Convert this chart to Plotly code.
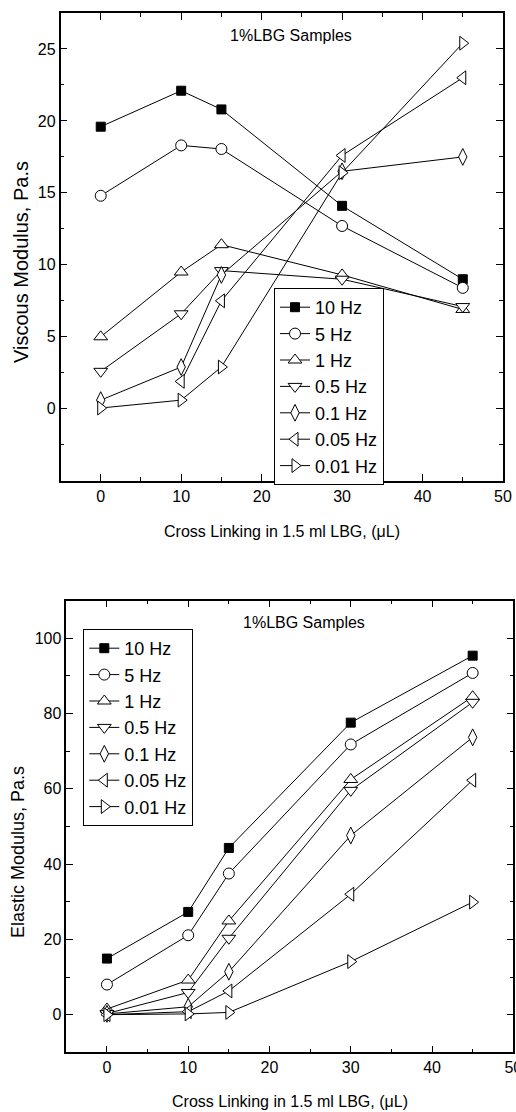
import plotly.graph_objects as go

W, H = 516, 1112

cross_link = [0, 10, 15, 30, 45]
series_names = ["10 Hz", "5 Hz", "1 Hz", "0.5 Hz", "0.1 Hz", "0.05 Hz", "0.01 Hz"]

viscous_10hz = [19.6, 22.1, 20.8, 14.1, 9.0]
viscous_5hz = [14.8, 18.3, 18.05, 12.7, 8.4]
viscous_1hz = [5.0, 9.5, 11.4, 9.3, 6.9]
viscous_05hz = [2.6, 6.6, 9.6, 9.0, 7.1]
viscous_01hz = [0.6, 2.9, 9.3, 16.5, 17.5]
viscous_005hz = [None, 1.9, 7.5, 17.6, 23.0]
viscous_001hz = [0.05, 0.6, 2.9, 16.4, 25.4]

elastic_10hz = [14.9, 27.3, 44.3, 77.6, 95.4]
elastic_5hz = [8.0, 21.1, 37.5, 71.8, 90.8]
elastic_1hz = [1.5, 9.2, 24.9, 62.5, 84.5]
elastic_05hz = [0.3, 5.9, 20.3, 59.6, 83.0]
elastic_01hz = [0.2, 2.1, 11.4, 47.6, 73.7]
elastic_005hz = [0.0, 0.8, 6.3, 32.0, 62.3]
elastic_001hz = [0.0, 0.2, 0.6, 14.1, 29.9]

x_ticks = [0, 10, 20, 30, 40, 50]
viscous_ticks = [0, 5, 10, 15, 20, 25]
elastic_ticks = [0, 20, 40, 60, 80, 100]

title_text = "1%LBG Samples"
x_title = "Cross Linking in 1.5 ml LBG, (\u03bcL)"
viscous_title = "Viscous Modulus, Pa.s"
elastic_title = "Elastic Modulus, Pa.s"

symbols = ["square", "circle", "triangle-up", "triangle-down", "diamond-tall",
           "triangle-left", "triangle-right"]
fills = ["black", "white", "white", "white", "white", "white", "white"]
sizes = [9, 11, 12, 12, 12, 12, 12]

viscous = [viscous_10hz, viscous_5hz, viscous_1hz, viscous_05hz,
           viscous_01hz, viscous_005hz, viscous_001hz]
elastic = [elastic_10hz, elastic_5hz, elastic_1hz, elastic_05hz,
           elastic_01hz, elastic_005hz, elastic_001hz]

FONT = "Liberation Sans, Arial, sans-serif"

fig = go.Figure()
for i, name in enumerate(series_names):
    fig.add_trace(go.Scatter(
        x=cross_link, y=viscous[i], name=name, mode="lines+markers",
        xaxis="x", yaxis="y", legend="legend",
        line=dict(color="black", width=1),
        marker=dict(symbol=symbols[i], size=sizes[i], color=fills[i],
                    line=dict(color="black", width=1)),
    ))
for i, name in enumerate(series_names):
    fig.add_trace(go.Scatter(
        x=cross_link, y=elastic[i], name=name, mode="lines+markers",
        xaxis="x2", yaxis="y2", legend="legend2",
        line=dict(color="black", width=1),
        marker=dict(symbol=symbols[i], size=sizes[i], color=fills[i],
                    line=dict(color="black", width=1)),
    ))

def px_x(p):
    return p / W

def px_y(p):
    return 1 - p / H

axis_common = dict(
    showline=True, linecolor="black", linewidth=1.5, mirror="allticks",
    ticks="inside", ticklen=7, tickwidth=1, tickcolor="black",
    showgrid=False, zeroline=False, automargin=False,
    tickfont=dict(family=FONT, size=16, color="black"),
)

fig.update_layout(
    width=W, height=H,
    margin=dict(l=0, r=0, t=0, b=0, autoexpand=False),
    paper_bgcolor="white", plot_bgcolor="white",
    xaxis=dict(domain=[px_x(60.5), px_x(503)], anchor="y", range=[-5, 50],
               tickmode="array", tickvals=x_ticks,
               minor=dict(dtick=5, tick0=0, ticks="inside", ticklen=4,
                          tickcolor="black", showgrid=False),
               **axis_common),
    yaxis=dict(domain=[px_y(480.7), px_y(13)], anchor="x", range=[-5, 27.5],
               tickmode="array", tickvals=viscous_ticks,
               minor=dict(dtick=2.5, tick0=0, ticks="inside", ticklen=4,
                          tickcolor="black", showgrid=False),
               **axis_common),
    xaxis2=dict(domain=[px_x(66.3), px_x(513.3)], anchor="y2", range=[-5, 50],
                tickmode="array", tickvals=x_ticks, ticklabeloverflow="allow",
                minor=dict(dtick=5, tick0=0, ticks="inside", ticklen=4,
                           tickcolor="black", showgrid=False),
                **axis_common),
    yaxis2=dict(domain=[px_y(1052.3), px_y(600.7)], anchor="x2", range=[-10, 110],
                tickmode="array", tickvals=elastic_ticks,
                minor=dict(dtick=10, tick0=0, ticks="inside", ticklen=4,
                           tickcolor="black", showgrid=False),
                **axis_common),
    legend=dict(x=px_x(274), y=px_y(288), xanchor="left", yanchor="top",
                bordercolor="black", borderwidth=1, bgcolor="white",
                font=dict(family=FONT, size=18, color="black"),
                tracegroupgap=0),
    legend2=dict(x=px_x(83.3), y=px_y(629), xanchor="left", yanchor="top",
                 bordercolor="black", borderwidth=1, bgcolor="white",
                 font=dict(family=FONT, size=18, color="black"),
                 tracegroupgap=0),
    showlegend=True,
)

annots = [
    dict(text=title_text, x=px_x(291), y=px_y(35), font=dict(family=FONT, size=16)),
    dict(text=title_text, x=px_x(304), y=px_y(622.7), font=dict(family=FONT, size=16)),
    dict(text=x_title, x=px_x(282), y=px_y(531.7), font=dict(family=FONT, size=16)),
    dict(text=x_title, x=px_x(290), y=px_y(1101), font=dict(family=FONT, size=16)),
    dict(text=viscous_title, x=px_x(21), y=px_y(262), textangle=-90,
         font=dict(family=FONT, size=20)),
    dict(text=elastic_title, x=px_x(18), y=px_y(852), textangle=-90,
         font=dict(family=FONT, size=18)),
]
for a in annots:
    a["font"]["color"] = "black"
    fig.add_annotation(xref="paper", yref="paper", showarrow=False,
                       xanchor="center", yanchor="middle", **a)

# remove the browser's default 8px body margin so the figure fills the window exactly
fig.write_html("out.html", config={"displayModeBar": False},
               post_script="document.body.style.margin='0';"
                           "document.body.style.overflow='hidden';")
